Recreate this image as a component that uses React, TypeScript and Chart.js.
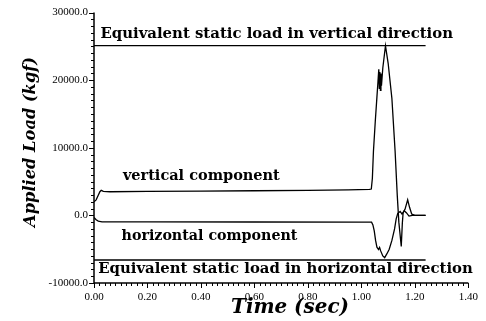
import React, { useEffect, useRef } from 'react';
import { Chart, registerables } from 'chart.js';

Chart.register(...registerables);

// ---- data (time in sec, load in kgf) ----
const timeVertical = [
  0, 0.008, 0.015, 0.022, 0.027, 0.035, 0.06, 0.2, 0.4, 0.6, 0.8, 0.95, 1.03,
  1.037, 1.041, 1.045, 1.052, 1.058, 1.062, 1.065, 1.067, 1.069, 1.071, 1.073,
  1.075, 1.08, 1.09, 1.1, 1.114, 1.126, 1.134, 1.14, 1.149, 1.153, 1.156,
  1.163, 1.173, 1.18, 1.188, 1.2, 1.24,
];
const verticalLoad = [
  2000, 2300, 2900, 3500, 3700, 3550, 3500, 3550, 3600, 3650, 3700, 3780, 3850,
  3900, 5500, 9500, 14000, 17500, 19800, 21600, 18800, 21200, 18500, 21000,
  19200, 21800, 25100, 22500, 17300, 9500, 3000, -1000, -4600, -1200, 400,
  900, 2300, 1200, 200, 0, 0,
];
const timeHorizontal = [
  0, 0.008, 0.016, 0.03, 0.2, 0.6, 1.0, 1.038, 1.043, 1.048, 1.053, 1.058,
  1.064, 1.068, 1.072, 1.08, 1.087, 1.095, 1.104, 1.114, 1.124, 1.13, 1.136,
  1.145, 1.152, 1.16, 1.168, 1.178, 1.19, 1.24,
];
const horizontalLoad = [
  -300, -650, -850, -950, -950, -980, -1000, -1000, -1400, -2300, -3700, -4700,
  -5050, -4750, -5250, -6000, -6250, -5700, -5000, -3700, -2000, -500, 300,
  600, 200, 700, 400, -100, 0, 0,
];
const staticTime = [0, 1.24];
const staticVertical = [25100, 25100];
const staticHorizontal = [-6600, -6600];

const xMin = 0, xMax = 1.4, xStep = 0.2, xMinorStep = 0.02;
const yMin = -10000, yMax = 30000, yStep = 10000, yMinorStep = 1000;

const xTitle = 'Time (sec)';
const yTitle = 'Applied Load (kgf)';
const notes = [
  { text: 'Equivalent static load in vertical direction', t: 0.024, v: 26200, w: 353 },
  { text: 'vertical component', t: 0.108, v: 5240, w: 157 },
  { text: 'horizontal component', t: 0.103, v: -3600, w: 176 },
  { text: 'Equivalent static load in horizontal direction', t: 0.016, v: -8580, w: 375 },
];

const toPoints = (xs: number[], ys: number[]) => xs.map((x, i) => ({ x, y: ys[i] }));

function fitFont(ctx: CanvasRenderingContext2D, text: string, style: string, family: string, width: number) {
  ctx.font = `${style} 12px ${family}`;
  const m = ctx.measureText(text).width;
  return `${style} ${(12 * width) / m}px ${family}`;
}

const decorPlugin = {
  id: 'decor',
  afterDraw(chart: any) {
    const ctx: CanvasRenderingContext2D = chart.ctx;
    const { left, right, top, bottom } = chart.chartArea;
    const xs = chart.scales.x;
    const ys = chart.scales.y;
    ctx.save();
    ctx.strokeStyle = '#000';
    ctx.fillStyle = '#000';
    ctx.lineWidth = 1.5;
    ctx.beginPath();
    ctx.moveTo(left, top);
    ctx.lineTo(left, bottom);
    ctx.lineTo(right, bottom);
    ctx.stroke();
    ctx.lineWidth = 1;
    ctx.beginPath();
    for (let i = 0; i <= Math.round((yMax - yMin) / yMinorStep); i++) {
      const v = yMin + i * yMinorStep;
      const y = Math.round(ys.getPixelForValue(v)) + 0.5;
      const len = v % yStep === 0 ? 5 : 3;
      ctx.moveTo(left, y);
      ctx.lineTo(left - len, y);
    }
    for (let i = 0; i <= Math.round((xMax - xMin) / xMinorStep); i++) {
      const t = xMin + i * xMinorStep;
      const x = Math.round(xs.getPixelForValue(t)) + 0.5;
      const len = i % Math.round(xStep / xMinorStep) === 0 ? 5 : 3;
      ctx.moveTo(x, bottom);
      ctx.lineTo(x, bottom + len);
    }
    ctx.stroke();

    // annotations
    ctx.textAlign = 'left';
    ctx.textBaseline = 'alphabetic';
    for (const n of notes) {
      ctx.font = fitFont(ctx, n.text, 'bold', '"DejaVu Serif"', n.w);
      ctx.fillText(n.text, xs.getPixelForValue(n.t), ys.getPixelForValue(n.v));
    }

    // axis titles
    ctx.textAlign = 'center';
    ctx.textBaseline = 'middle';
    ctx.font = fitFont(ctx, xTitle, 'italic bold', '"DejaVu Serif"', 118);
    ctx.fillText(xTitle, 290, 308);
    ctx.save();
    ctx.translate(31, 142);
    ctx.rotate(-Math.PI / 2);
    ctx.font = fitFont(ctx, yTitle, 'italic bold', '"DejaVu Serif"', 170);
    ctx.fillText(yTitle, 0, 0);
    ctx.restore();
    ctx.restore();
  },
};

export default function App() {
  const ref = useRef<HTMLCanvasElement>(null);
  useEffect(() => {
    document.body.style.margin = '0';
    const line = (data: any) => ({
      data,
      borderColor: '#000',
      borderWidth: 1.3,
      pointRadius: 0,
      tension: 0,
      fill: false,
    });
    const chart = new Chart(ref.current!, {
      type: 'line',
      data: {
        datasets: [
          line(toPoints(timeVertical, verticalLoad)),
          line(toPoints(timeHorizontal, horizontalLoad)),
          line(toPoints(staticTime, staticVertical)),
          line(toPoints(staticTime, staticHorizontal)),
        ],
      },
      options: {
        animation: false,
        responsive: false,
        parsing: false,
        layout: { padding: { top: 10, right: 16, left: 0, bottom: 0 } },
        plugins: { legend: { display: false }, tooltip: { enabled: false } },
        scales: {
          x: {
            type: 'linear',
            min: xMin,
            max: xMax,
            grid: { display: false, drawTicks: false },
            border: { display: false },
            ticks: {
              stepSize: xStep,
              padding: 8,
              color: '#000',
              font: { family: '"Liberation Serif"', size: 11 },
              callback: (v: any) => Number(v).toFixed(2),
            },
            afterFit: (s: any) => { s.height = 38; },
          },
          y: {
            type: 'linear',
            min: yMin,
            max: yMax,
            grid: { display: false, drawTicks: false },
            border: { display: false },
            ticks: {
              stepSize: yStep,
              padding: 6,
              color: '#000',
              font: { family: '"Liberation Serif"', size: 11 },
              callback: (v: any) => Number(v).toFixed(1),
            },
            afterFit: (s: any) => { s.width = 94; },
          },
        },
      },
      plugins: [decorPlugin],
    });
    return () => chart.destroy();
  }, []);
  return (
    <div style={{ position: 'absolute', left: 0, top: 0, width: 486, height: 321 }}>
      <canvas ref={ref} width={486} height={321} />
    </div>
  );
}
